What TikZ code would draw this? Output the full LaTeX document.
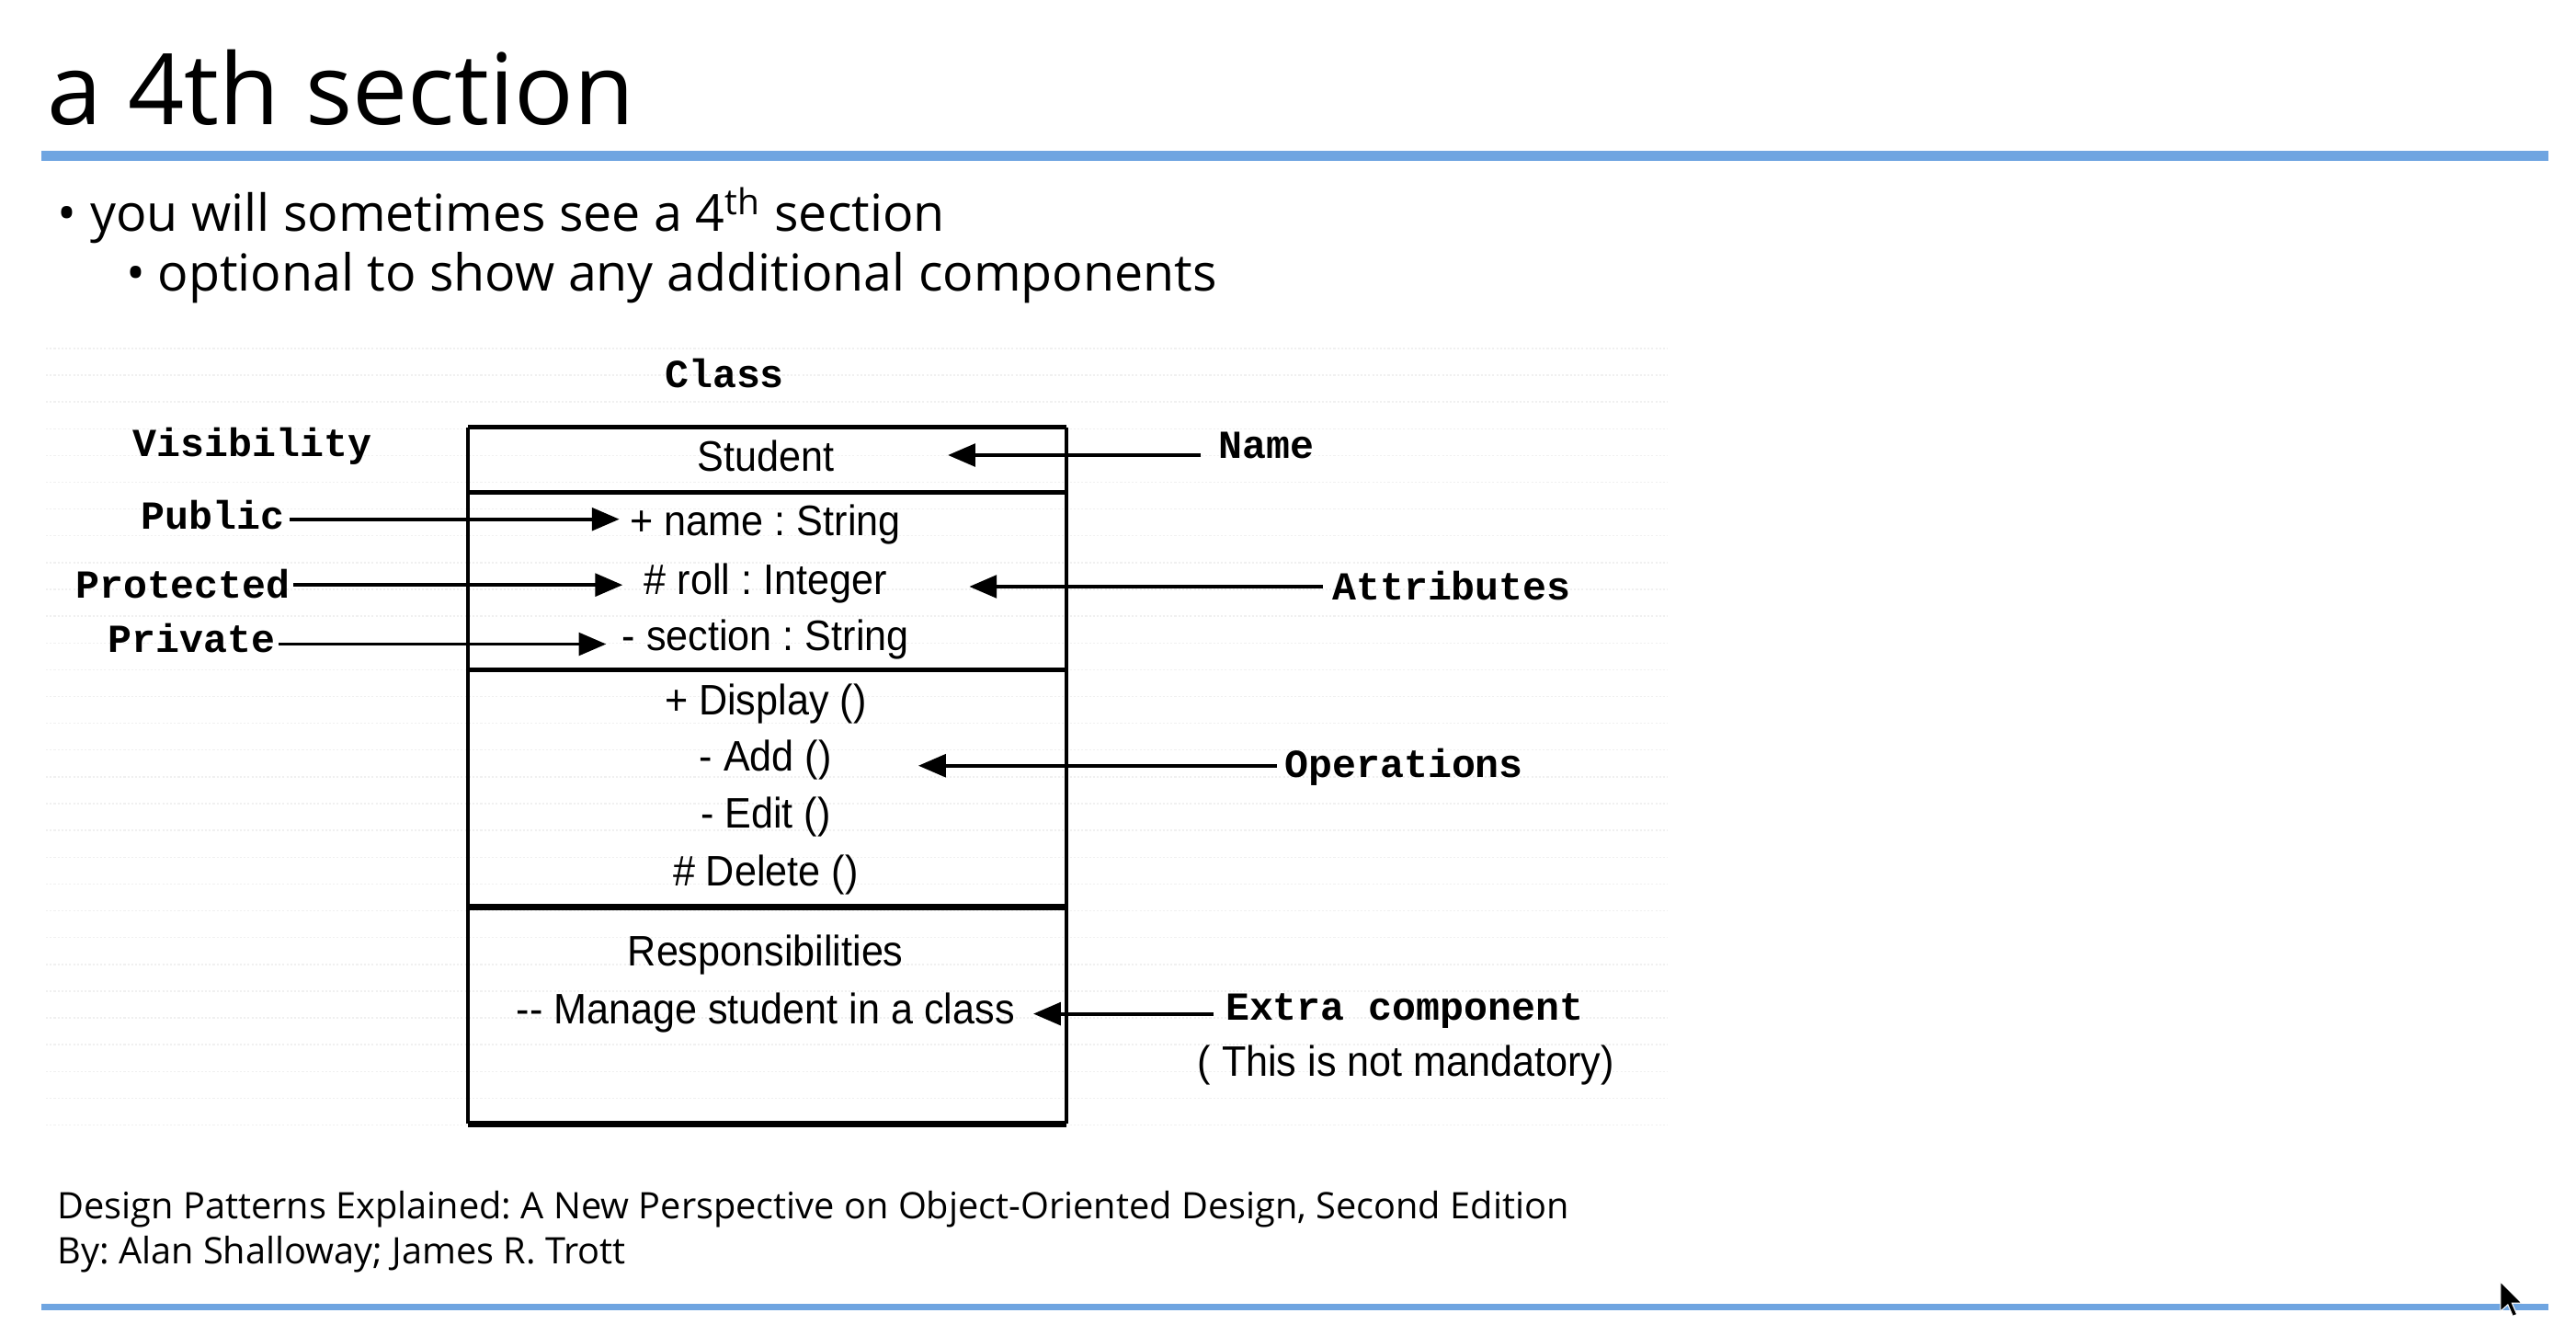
\documentclass[tikz,border=0pt]{standalone}
\usepackage{fontspec}
\setmainfont{Open Sans}
\newfontfamily\umlsans{Liberation Sans}
\newfontfamily\umlmono{Liberation Mono}
\usetikzlibrary{arrows.meta}
\definecolor{slideblue}{RGB}{111,165,225}
\newcommand{\umlnarrow}[1]{\scalebox{0.93}[1]{#1}}
\frenchspacing

\begin{document}
\begin{tikzpicture}[x=0.01787cm, y=-0.01787cm,
  every node/.style={inner sep=0pt, outer sep=0pt},
  heading/.style={anchor=base west, font=\fontsize{30.5pt}{36pt}\selectfont},
  bullet/.style={anchor=base west, font=\fontsize{15.8pt}{18pt}\selectfont},
  footer/.style={anchor=base west, font=\fontsize{11.3pt}{13pt}\selectfont},
  member/.style={anchor=base, font=\umlsans\fontsize{13.2pt}{15pt}\selectfont},
  tag/.style={anchor=base west, font=\umlmono\bfseries\fontsize{12.3pt}{14pt}\selectfont},
  pointer/.style={line width=1.1pt, -{Triangle[length=8.5pt,width=7pt]}},
  boxside/.style={line width=1.1pt},
  boxrule/.style={line width=1.5pt},
  boxrulethick/.style={line width=2pt},
  bgline/.style={black!6, line width=0.4pt, dash pattern=on 0.6pt off 0.6pt},
]
\useasboundingbox (0,0) rectangle (1568,813);
\fill[white] (0,0) rectangle (1568,813);

% heading and top rule
\node[heading] (title) at (29,76) {a 4th section};
\fill[slideblue] (25,91.5) rectangle (1551,98);

% bullet list
\node[bullet] (dot1) at (35,141) {•};
\node[bullet] (item1) at (55,141) {you will sometimes see a 4\textsuperscript{th} section};
\node[bullet] (dot2) at (77,177) {•};
\node[bullet] (item2) at (96,177) {optional to show any additional components};

% faint scan texture behind the diagram
\foreach \yy in {212,228.3,...,692} \draw[bgline] (28,\yy) -- (1015,\yy);

% class box outline and compartments
\draw[boxside] (285,260) -- (285,684);
\draw[boxside] (649,260) -- (649,684);
\draw[boxrule] (285,260) -- (649,260);
\draw[boxrule] (285,299.5) -- (649,299.5);
\draw[boxrule] (285,407.6) -- (649,407.6);
\draw[boxrulethick] (285,552) -- (649,552);
\draw[boxrulethick] (285,684) -- (649,684);

% compartment contents
\node[member] (cname) at (466,287) {\umlnarrow{Student}};
\node[member] (aname) at (466,326) {\umlnarrow{+ name : String}};
\node[member] (aroll) at (466,362) {\umlnarrow{\# roll : Integer}};
\node[member] (asect) at (466,396) {\umlnarrow{- section : String}};
\node[member] (odisp) at (466,435) {\umlnarrow{+ Display ()}};
\node[member] (oadd) at (466,469) {\umlnarrow{- Add ()}};
\node[member] (oedit) at (466,504) {\umlnarrow{- Edit ()}};
\node[member] (odel) at (466,539) {\umlnarrow{\# Delete ()}};
\node[member] (rhead) at (466,588) {\umlnarrow{Responsibilities}};
\node[member] (rmanage) at (466,623) {\umlnarrow{-- Manage student in a class}};

% annotation labels
\node[tag, anchor=base] (lclass) at (441,236) {Class};
\node[tag] (lvis) at (81,278) {Visibility};
\node[tag] (lpub) at (86,322) {Public};
\node[tag] (lprot) at (46,364) {Protected};
\node[tag] (lpriv) at (66,397) {Private};
\node[tag] (lname) at (742,279) {Name};
\node[tag] (lattr) at (811,365) {Attributes};
\node[tag] (lops) at (782,473) {Operations};
\node[tag] (lextra) at (746,621) {Extra component};
\node[member, anchor=base west] (lnote) at (729,655) {\umlnarrow{( This is not mandatory)}};

% arrow tips
\coordinate (tname) at (577,277);
\coordinate (tpub) at (377,316);
\coordinate (tprot) at (379,356);
\coordinate (tpriv) at (369,392);
\coordinate (tattr) at (590,357);
\coordinate (tops) at (559,466);
\coordinate (textra) at (629,617);

% pointers
\draw[pointer] ([xshift=1.5pt]lpub.east |- tpub) -- (tpub);
\draw[pointer] ([xshift=1pt]lprot.east |- tprot) -- (tprot);
\draw[pointer] ([xshift=1pt]lpriv.east |- tpriv) -- (tpriv);
\draw[pointer] ([xshift=-5.6pt]lname.west |- tname) -- (tname);
\draw[pointer] ([xshift=-3pt]lattr.west |- tattr) -- (tattr);
\draw[pointer] ([xshift=-2.5pt]lops.west |- tops) -- (tops);
\draw[pointer] ([xshift=-3.7pt]lextra.west |- textra) -- (textra);

% source reference
\node[footer] (src1) at (35,742) {Design Patterns Explained: A New Perspective on Object-Oriented Design, Second Edition};
\node[footer] (src2) at (35,769) {By: Alan Shalloway; James R. Trott};

% bottom rule
\fill[slideblue] (25,793.5) rectangle (1551,797.5);

% mouse pointer
\filldraw[fill=black, draw=white, line width=0.3pt]
  (1522,780) -- (1522,798) -- (1526.5,794) -- (1529.5,801) -- (1532,800) -- (1529,793) -- (1535,793) -- cycle;
\end{tikzpicture}
\end{document}
